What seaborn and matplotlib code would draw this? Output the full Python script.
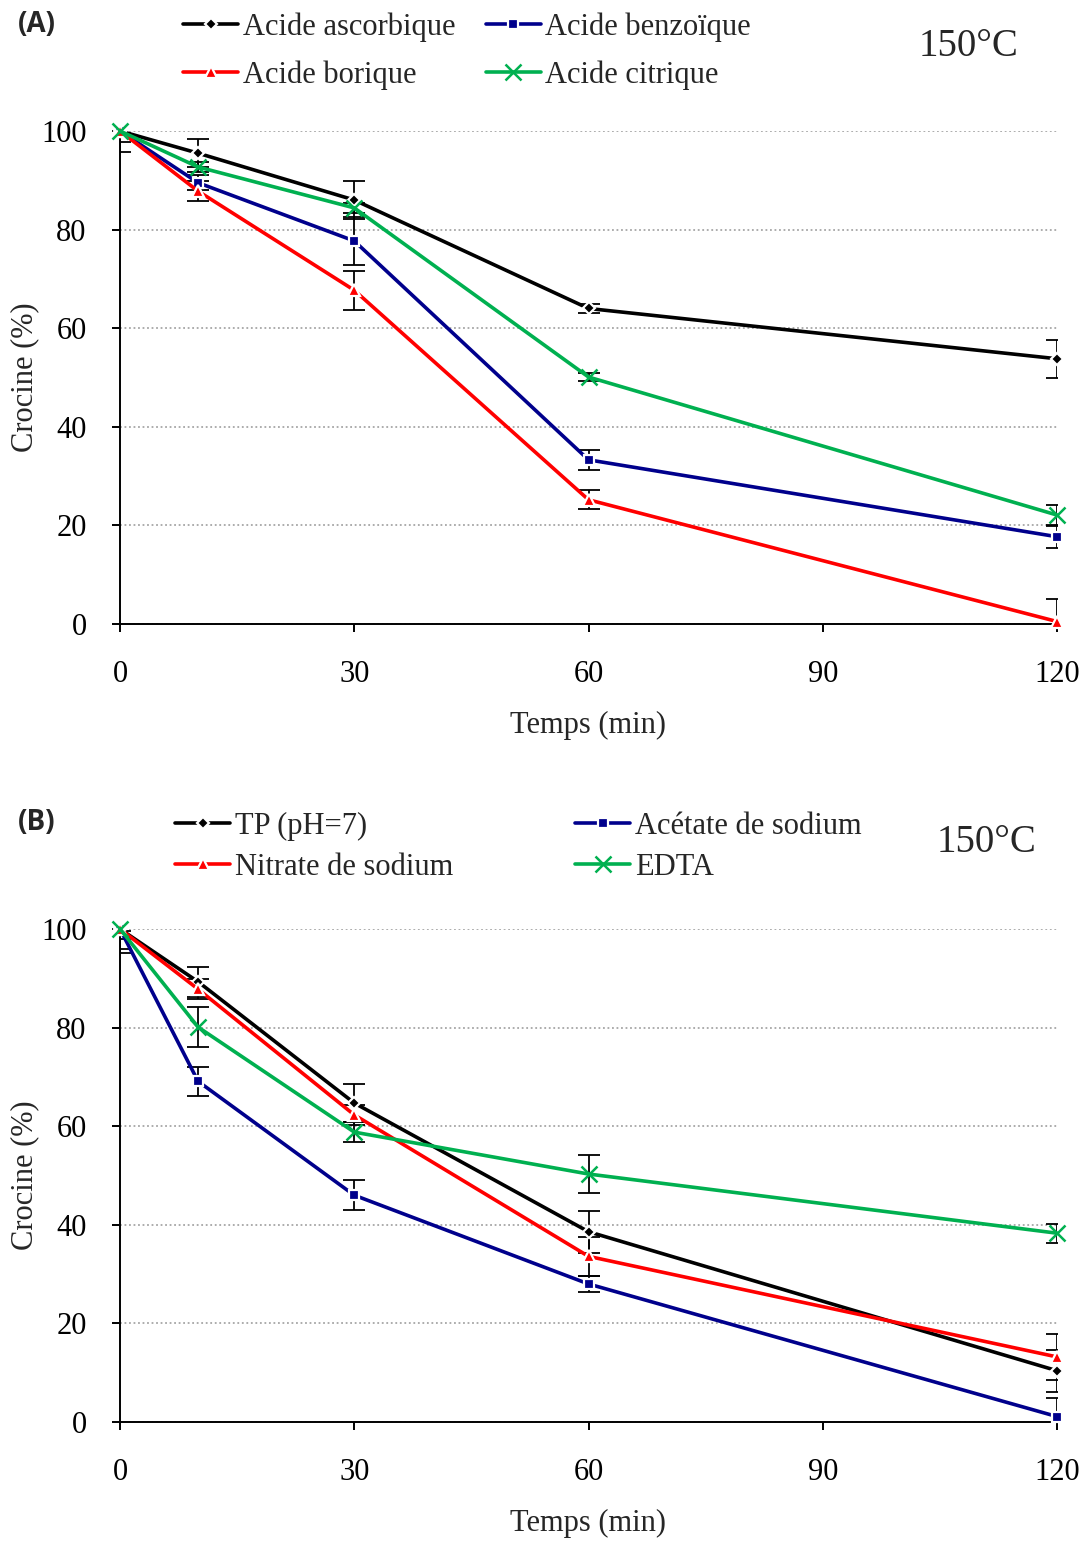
import matplotlib
matplotlib.use("Agg")
import matplotlib.pyplot as plt
from matplotlib.lines import Line2D
import seaborn as sns
import pandas as pd

# Sampling times (min)
temps = [0, 10, 30, 60, 120]

# Panel A: acids
acide_ascorbique = [100, 95.5, 86.0, 64.0, 53.8]
acide_ascorbique_err = [4.2, 2.8, 3.9, 1.0, 3.8]
acide_benzoique = [100, 89.5, 77.7, 33.3, 17.7]
acide_benzoique_err = [2.2, 1.5, 4.8, 2.0, 2.2]
acide_borique = [100, 87.8, 67.7, 25.2, 0.5]
acide_borique_err = [1.0, 2.0, 4.0, 1.9, 4.6]
acide_citrique = [100, 92.7, 84.4, 50.1, 22.1]
acide_citrique_err = [0.5, 1.0, 1.0, 0.8, 2.0]

# Panel B: buffer and salts
tp_ph7 = [100, 89.3, 64.7, 38.6, 10.4]
tp_ph7_err = [4.8, 3.0, 3.8, 4.3, 4.3]
acetate_sodium = [100, 69.1, 46.0, 28.0, 1.1]
acetate_sodium_err = [2.0, 3.0, 3.0, 1.6, 3.8]
nitrate_sodium = [100, 87.8, 62.3, 33.6, 13.2]
nitrate_sodium_err = [4.0, 2.0, 2.0, 4.0, 4.6]
edta = [100, 80.1, 58.8, 50.3, 38.3]
edta_err = [0.5, 4.0, 2.0, 3.9, 1.9]

x_ticks = [0, 30, 60, 90, 120]
y_ticks = [0, 20, 40, 60, 80, 100]

BLACK = "#000000"
BLUE = "#00008C"
RED = "#FF0000"
GREEN = "#00B050"

sns.set_style("ticks")
plt.rcParams["font.family"] = ["Liberation Serif", "DejaVu Serif"]

FS = 22

panel_a = [
    ("Acide ascorbique", acide_ascorbique, acide_ascorbique_err, BLACK, "D"),
    ("Acide benzoïque", acide_benzoique, acide_benzoique_err, BLUE, "s"),
    ("Acide borique", acide_borique, acide_borique_err, RED, "^"),
    ("Acide citrique", acide_citrique, acide_citrique_err, GREEN, "x"),
]
panel_b = [
    ("TP (pH=7)", tp_ph7, tp_ph7_err, BLACK, "D"),
    ("Acétate de sodium", acetate_sodium, acetate_sodium_err, BLUE, "s"),
    ("Nitrate de sodium", nitrate_sodium, nitrate_sodium_err, RED, "^"),
    ("EDTA", edta, edta_err, GREEN, "x"),
]

MSIZE = {"D": 6.5, "s": 7, "^": 8, "x": 12}


def style_kwargs(marker, color):
    if marker == "x":
        return dict(marker="x", markersize=MSIZE[marker], markeredgecolor=color,
                    markeredgewidth=1.8)
    return dict(marker=marker, markersize=MSIZE[marker], markeredgecolor="white",
                markeredgewidth=1.6, markerfacecolor=color)


fig = plt.figure(figsize=(10.85, 15.41), dpi=100)
W, H = 1085, 1541


def draw_panel(ax, series):
    handles = []
    for name, vals, errs, color, marker in series:
        df = pd.DataFrame({"Temps": temps, "Crocine": vals})
        ax.errorbar(temps, vals, yerr=errs, fmt="none", ecolor="black",
                    elinewidth=1.3, capsize=8, capthick=1.3, zorder=3)
        sns.lineplot(data=df, x="Temps", y="Crocine", ax=ax, color=color,
                     linewidth=2.6, zorder=4, clip_on=False,
                     **style_kwargs(marker, color))
        handles.append(Line2D([], [], color=color, linewidth=2.6,
                              **style_kwargs(marker, color), label=name))
    ax.set_xlim(0, 120)
    ax.set_ylim(0, 100)
    ax.set_xticks(x_ticks)
    ax.set_yticks(y_ticks)
    ax.yaxis.grid(True, linestyle=(0, (1, 1.5)), color="#A6A6A6", linewidth=1.3)
    ax.set_axisbelow(True)
    for s in ("top", "right"):
        ax.spines[s].set_visible(False)
    for s in ("left", "bottom"):
        ax.spines[s].set_color("black")
        ax.spines[s].set_linewidth(1.4)
    ax.tick_params(axis="both", direction="out", length=6, width=1.4,
                   colors="black", labelsize=FS)
    ax.tick_params(axis="x", pad=20)
    ax.tick_params(axis="y", pad=18)
    ax.set_xlabel("Temps (min)", fontsize=FS)
    ax.set_ylabel("Crocine (%)", fontsize=FS)
    ax.xaxis.set_label_coords(0.5, -0.177)
    ax.yaxis.set_label_coords(-0.086, 0.5)
    return handles


ax_a = fig.add_axes([120 / W, 1 - 624 / H, 937 / W, 493 / H])
ax_b = fig.add_axes([120 / W, 1 - 1422 / H, 937 / W, 493 / H])

h_a = draw_panel(ax_a, panel_a)
h_b = draw_panel(ax_b, panel_b)

# Legends: two rows, two columns (filled column by column)
order = [0, 2, 1, 3]
fig.legend([h_a[i] for i in order], [h_a[i].get_label() for i in order],
           loc="upper left", bbox_to_anchor=(183 / W, 1 - 12 / H),
           bbox_transform=fig.transFigure, ncol=2, frameon=False,
           fontsize=FS, handlelength=1.8, handletextpad=0.15,
           columnspacing=1.0, labelspacing=0.62, borderpad=0, borderaxespad=0,
           numpoints=1)
fig.legend([h_b[i] for i in order], [h_b[i].get_label() for i in order],
           loc="upper left", bbox_to_anchor=(175 / W, 1 - 812 / H),
           bbox_transform=fig.transFigure, ncol=2, frameon=False,
           fontsize=FS, handlelength=1.8, handletextpad=0.15,
           columnspacing=4.0, labelspacing=0.38, borderpad=0, borderaxespad=0,
           numpoints=1)

fig.text(969 / W, 1 - 46 / H, "150°C", fontsize=28, ha="center", va="center")
fig.text(987 / W, 1 - 843 / H, "150°C", fontsize=28, ha="center", va="center")
fig.text(18 / W, 1 - 25 / H, "(A)", fontsize=20, fontweight="bold",
         family=["Open Sans", "DejaVu Sans"], ha="left", va="center")
fig.text(18 / W, 1 - 822 / H, "(B)", fontsize=20, fontweight="bold",
         family=["Open Sans", "DejaVu Sans"], ha="left", va="center")

fig.savefig("out.png", dpi=100)
